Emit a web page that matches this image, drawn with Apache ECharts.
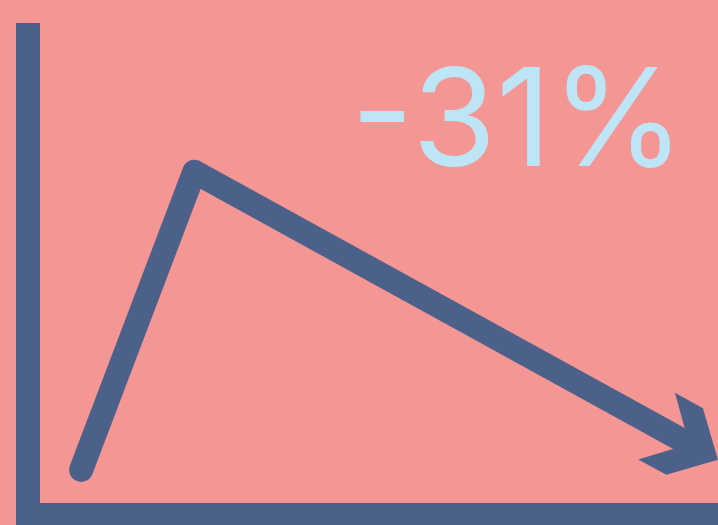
<!DOCTYPE html>
<html>
<head>
<meta charset="utf-8">
<script src="https://cdn.jsdelivr.net/npm/echarts@6/dist/echarts.min.js"></script>
<style>
html,body{margin:0;padding:0;background:#f49694;}
#main{width:718px;height:525px;}
</style>
</head>
<body>
<div id="main"></div>
<script>
// trend points (x: 0-100 along time, y: 0-100 value)
var xValues = [7.7, 24.1, 95.8];
var yValues = [9.4, 71.5, 14.8];
var changeText = '-31%';

var blue = '#4c6189';

var chart = echarts.init(document.getElementById('main'));

var lineData = xValues.map(function (x, i) { return [x, yValues[i]]; });
var n = lineData.length;
// last segment, used to point the arrowhead
var headData = [[xValues[n - 2], yValues[n - 2], xValues[n - 1], yValues[n - 1]]];

function axisStyle(max) {
    return {
        type: 'value', min: 0, max: max,
        axisLine: { show: true, lineStyle: { color: blue, width: 24, cap: 'square' } },
        axisTick: { show: false },
        axisLabel: { show: false },
        splitLine: { show: false }
    };
}

chart.setOption({
    backgroundColor: '#f49694',
    animation: false,
    grid: { left: 28, right: 0, top: 35, bottom: 10 },
    xAxis: axisStyle(100),
    yAxis: axisStyle(100),
    graphic: [{
        type: 'text',
        style: {
            x: 685, y: 125,
            text: changeText,
            fill: '#bde5f6',
            font: '400 136px Inter',
            textAlign: 'right',
            textVerticalAlign: 'middle'
        }
    }],
    series: [
        {
            type: 'line',
            data: lineData,
            symbol: 'none',
            lineStyle: { color: blue, width: 24, cap: 'round', join: 'round' }
        },
        {
            type: 'custom',
            data: headData,
            renderItem: function (params, api) {
                var p0 = api.coord([api.value(0), api.value(1)]);
                var p1 = api.coord([api.value(2), api.value(3)]);
                var dx = p1[0] - p0[0], dy = p1[1] - p0[1];
                var len = Math.sqrt(dx * dx + dy * dy);
                var ux = dx / len, uy = dy / len;
                var nx = uy, ny = -ux;
                var tip = [p1[0] + 33 * ux, p1[1] + 33 * uy];
                var shape = [[0, 0], [-38, 38], [-70, 38], [-33, 0], [-70, -38], [-38, -38]];
                var pts = shape.map(function (s) {
                    return [tip[0] + s[0] * ux + s[1] * nx, tip[1] + s[0] * uy + s[1] * ny];
                });
                return { type: 'polygon', shape: { points: pts }, style: { fill: blue } };
            }
        }
    ]
});
</script>
</body>
</html>
